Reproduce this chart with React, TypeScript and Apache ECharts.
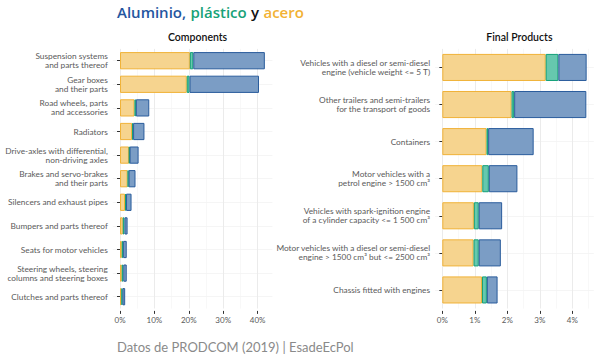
import React, { useEffect, useRef } from "react";
import * as echarts from "echarts";

const compCategories = [
  "Suspension systems\nand parts thereof",
  "Gear boxes\nand their parts",
  "Road wheels, parts\nand accessories",
  "Radiators",
  "Drive-axles with differential,\nnon-driving axles",
  "Brakes and servo-brakes\nand their parts",
  "Silencers and exhaust pipes",
  "Bumpers and parts thereof",
  "Seats for motor vehicles",
  "Steering wheels, steering\ncolumns and steering boxes",
  "Clutches and parts thereof",
];
const compAcero = [20.3, 19.4, 4.2, 3.5, 2.6, 2.2, 1.45, 0.8, 0.5, 0.5, 0.4];
const compPlastico = [1.0, 0.8, 0.4, 0.3, 0.2, 0.3, 0.3, 0.5, 0.4, 0.45, 0.3];
const compAluminio = [20.8, 20.2, 3.9, 3.3, 2.6, 2.0, 1.6, 0.9, 1.05, 1.0, 0.8];
const compTicks = [0, 10, 20, 30, 40];
const compMinor = [5, 15, 25, 35];

const finalCategories = [
  "Vehicles with a diesel or semi-diesel\nengine (vehicle weight <= 5 T)",
  "Other trailers and semi-trailers\nfor the transport of goods",
  "Containers",
  "Motor vehicles with a\npetrol engine > 1500 cm³",
  "Vehicles with spark-ignition engine\nof a cylinder capacity <= 1 500 cm³",
  "Motor vehicles with a diesel or semi-diesel\nengine > 1500 cm³ but <= 2500 cm³",
  "Chassis fitted with engines",
];
const finalAcero = [3.18, 2.13, 1.36, 1.23, 0.97, 0.96, 1.22];
const finalPlastico = [0.39, 0.08, 0.05, 0.2, 0.15, 0.16, 0.15];
const finalAluminio = [0.87, 2.22, 1.4, 0.88, 0.72, 0.68, 0.33];
const finalTicks = [0, 1, 2, 3, 4];
const finalMinor = [0.5, 1.5, 2.5, 3.5, 4.5];

const FONT = "Lato";
const TITLE_FONT = "Open Sans";
const LABEL_COLOR = "#5a5a5a";

const seriesStyles = [
  { name: "acero", fill: "#F6D48F", border: "#F0B238" },
  { name: "plástico", fill: "#66C8AE", border: "#13A078" },
  { name: "aluminio", fill: "#7B9DC5", border: "#2A5C9C" },
];

export default function App() {
  const ref = useRef<HTMLDivElement>(null);
  useEffect(() => {
    if (!ref.current) return;
    const chart = echarts.init(ref.current, null, { renderer: "svg" });

    const grids = [
      { left: 112.8, width: 159.6, top: 48.9, height: 259.6 },
      { left: 435.1, width: 158.7, top: 48.9, height: 259.6 },
    ];
    const ranges = [
      { min: -2.1, max: 44.3, ticks: compTicks, minor: compMinor },
      { min: -0.222, max: 4.66, ticks: finalTicks, minor: finalMinor },
    ];

    const xAxis: any[] = [];
    ranges.forEach((r, i) => {
      xAxis.push({
        type: "value",
        gridIndex: i,
        position: "bottom",
        min: r.min,
        max: r.max,
        offset: 2.4,
        axisLine: { show: false },
        axisTick: {
          show: true,
          length: 3,
          customValues: r.ticks,
          lineStyle: { color: "#333", width: 1 },
        },
        axisLabel: {
          customValues: r.ticks,
          formatter: (v: number) => `${Math.round(v)}%`,
          color: LABEL_COLOR,
          fontFamily: FONT,
          fontSize: 8,
          margin: 5,
        },
        splitLine: { show: true, lineStyle: { color: "#EBEBEB", width: 1 } },
      });
      xAxis.push({
        type: "value",
        gridIndex: i,
        position: "top",
        min: r.min,
        max: r.max,
        axisLine: { show: false },
        axisTick: { show: false, customValues: r.minor },
        axisLabel: { show: false, customValues: r.minor },
        splitLine: { show: true, lineStyle: { color: "#F4F4F4", width: 0.6 } },
      });
    });

    const yAxis = [compCategories, finalCategories].map((cats, i) => ({
      type: "category",
      gridIndex: i,
      data: cats,
      inverse: true,
      axisLine: { show: false },
      axisTick: {
        show: true,
        alignWithLabel: true,
        length: 3,
        lineStyle: { color: "#333", width: 1 },
      },
      axisLabel: {
        color: LABEL_COLOR,
        fontFamily: FONT,
        fontSize: 8.3,
        lineHeight: 9,
        margin: 5,
        interval: 0,
      },
      splitLine: {
        show: true,
        alignWithLabel: true,
        lineStyle: { color: "#F2F2F2", width: 0.8 },
      },
    }));

    const dataSets = [
      [compAcero, compPlastico, compAluminio],
      [finalAcero, finalPlastico, finalAluminio],
    ];
    const series: any[] = [];
    dataSets.forEach((sets, gi) => {
      sets.forEach((vals, si) => {
        const st = seriesStyles[si];
        series.push({
          type: "bar",
          name: st.name,
          xAxisIndex: gi * 2,
          yAxisIndex: gi,
          stack: "s" + gi,
          barWidth: "73%",
          data: vals,
          itemStyle: {
            color: st.fill,
            borderColor: st.border,
            borderWidth: 1,
          },
        });
      });
    });

    const tStyle = (c: string) => ({
      color: c,
      fontSize: 15,
      fontWeight: 600,
      fontFamily: TITLE_FONT,
    });

    chart.setOption({
      animation: false,
      backgroundColor: "#ffffff",
      textStyle: { fontFamily: FONT },
      title: [
        {
          text: "{b|Aluminio,} {g|plástico} {k|y} {o|acero}",
          left: 112,
          top: -2,
          textStyle: {
            rich: {
              b: tStyle("#2456A0"),
              g: tStyle("#17A278"),
              k: tStyle("#111111"),
              o: tStyle("#F2B234"),
            },
          },
        },
        {
          text: "Components",
          left: 192.6,
          textAlign: "center",
          top: 26,
          textStyle: { color: "#111", fontSize: 10.5, fontWeight: 600, fontFamily: FONT },
        },
        {
          text: "Final Products",
          left: 514.4,
          textAlign: "center",
          top: 26,
          textStyle: { color: "#111", fontSize: 10.5, fontWeight: 600, fontFamily: FONT },
        },
        {
          text: "Datos de PRODCOM (2019) | EsadeEcPol",
          left: 112,
          top: 335,
          textStyle: { color: "#8a8a8a", fontSize: 13, fontWeight: 400, fontFamily: FONT },
        },
      ],
      grid: grids.map((g) => ({ ...g, containLabel: false, outerBoundsMode: "none" })),
      xAxis,
      yAxis,
      series,
    });

    return () => chart.dispose();
  }, []);

  return (
    <div
      ref={ref}
      style={{ position: "fixed", left: 0, top: 0, width: 600, height: 359 }}
    />
  );
}
